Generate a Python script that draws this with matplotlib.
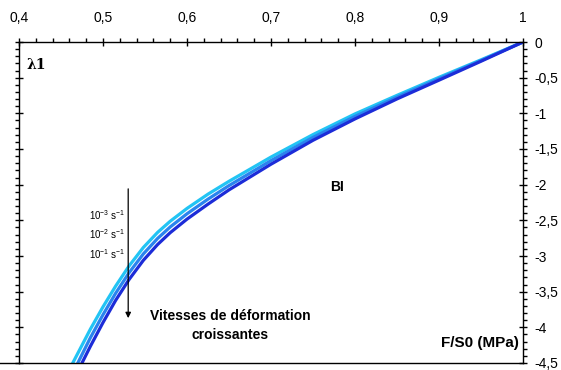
import matplotlib
matplotlib.use("Agg")
import matplotlib.pyplot as plt
from matplotlib.ticker import MultipleLocator, FuncFormatter
from matplotlib.lines import Line2D

plt.rcParams['font.family'] = ['Liberation Sans', 'DejaVu Sans']
plt.rcParams['mathtext.fontset'] = 'custom'
plt.rcParams['mathtext.rm'] = 'Liberation Sans'
plt.rcParams['mathtext.default'] = 'regular'

# curves (F/S0 in MPa, lambda1)
x_slow = [1.0, 0.95, 0.9, 0.85, 0.8, 0.75, 0.7, 0.65, 0.625, 0.6, 0.58, 0.565,
          0.548, 0.531, 0.515, 0.5, 0.485, 0.464]
y_slow = [0.0, -0.25, -0.495, -0.748, -1.008, -1.298, -1.613, -1.953, -2.133, -2.333, -2.513, -2.669,
          -2.881, -3.14, -3.423, -3.713, -4.025, -4.5]

x_mid = [1.0, 0.95, 0.9, 0.85, 0.8, 0.75, 0.7, 0.65, 0.625, 0.6, 0.58, 0.565,
         0.548, 0.531, 0.515, 0.5, 0.485, 0.47]
y_mid = [0.0, -0.26, -0.515, -0.773, -1.043, -1.338, -1.663, -2.013, -2.203, -2.408, -2.593, -2.754,
         -2.971, -3.235, -3.523, -3.823, -4.145, -4.5]

x_fast = [1.0, 0.95, 0.9, 0.85, 0.8, 0.75, 0.7, 0.65, 0.625, 0.6, 0.58, 0.565,
          0.548, 0.531, 0.515, 0.5, 0.485, 0.475]
y_fast = [0.0, -0.27, -0.535, -0.798, -1.078, -1.378, -1.713, -2.073, -2.273, -2.483, -2.673, -2.839,
          -3.061, -3.33, -3.623, -3.933, -4.265, -4.5]

rate_labels = ['10$^{-3}$ s$^{-1}$', '10$^{-2}$ s$^{-1}$', '10$^{-1}$ s$^{-1}$']

fig = plt.figure(figsize=(5.61, 3.70), dpi=100)
ax = fig.add_axes([19 / 561, 1 - 363 / 370, (523 - 19) / 561, (363 - 42) / 370])

ax.plot(x_slow, y_slow, color='#22c4f4', lw=2.3)
ax.plot(x_mid, y_mid, color='#2a84ee', lw=2.3)
ax.plot(x_fast, y_fast, color='#1c2cd8', lw=2.3)

ax.set_xlim(0.4, 1.0)
ax.set_ylim(-4.5, 0)

# axis layout: labels on top and right, ticks on left/top/right
ax.xaxis.set_major_locator(MultipleLocator(0.1))
ax.xaxis.set_minor_locator(MultipleLocator(0.02))
ax.yaxis.set_major_locator(MultipleLocator(0.5))
ax.yaxis.set_minor_locator(MultipleLocator(0.1))

comma = FuncFormatter(lambda v, p: ('%g' % round(v, 2)).replace('.', ','))
ax.xaxis.set_major_formatter(comma)
ax.yaxis.set_major_formatter(comma)

ax.tick_params(axis='x', which='both', top=True, bottom=False, labeltop=True, labelbottom=False)
ax.tick_params(axis='y', which='both', left=True, right=True, labelleft=False, labelright=True)
ax.tick_params(which='major', direction='inout', length=6, width=1, labelsize=10)
ax.tick_params(axis='x', which='major', pad=9.5)
ax.tick_params(axis='y', which='major', pad=5.5)
ax.tick_params(which='minor', direction='out', length=3, width=1)

for s in ax.spines.values():
    s.set_linewidth(1)

# bottom line runs out to the left edge of the figure
fig.add_artist(Line2D([0, 19 / 561], [1 - 363 / 370, 1 - 363 / 370], color='black', lw=1))

# annotations
ax.text(0.409, -0.32, 'λ1', fontsize=10, fontweight='bold', family='DejaVu Serif', va='center')
ax.text(0.779, -2.03, 'BI', fontsize=10, fontweight='bold', ha='center', va='center')

rate_y = [-2.43, -2.69, -2.97]
for lab, yy in zip(rate_labels, rate_y):
    ax.text(0.526, yy, lab, fontsize=7, ha='right', va='center')

ax.annotate('', xy=(0.530, -3.91), xytext=(0.530, -2.02),
            arrowprops=dict(arrowstyle='-|>', color='black', lw=0.9, mutation_scale=8))

ax.text(0.651, -3.98, 'Vitesses de déformation\ncroissantes', fontsize=10, fontweight='bold',
        ha='center', va='center', multialignment='center', linespacing=1.45)
ax.text(0.995, -4.22, 'F/S0 (MPa)', fontsize=11, fontweight='bold', ha='right', va='center')

fig.savefig('out.png', dpi=100)
